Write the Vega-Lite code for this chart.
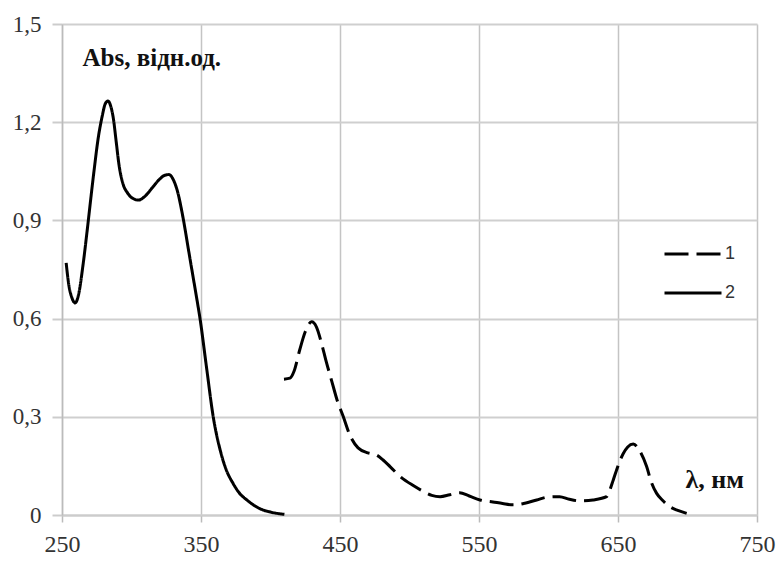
{
  "$schema": "https://vega.github.io/schema/vega-lite/v6.json",
  "width": 695,
  "height": 491,
  "autosize": {"type": "none"},
  "padding": {"left": 62, "top": 24, "right": 20, "bottom": 46},
  "background": "white",
  "config": {
    "view": {"stroke": null},
    "font": "Liberation Serif"
  },
  "data": {
    "values": [
      {"wl": 253, "abs": 0.77, "s": "2"},
      {"wl": 255, "abs": 0.70, "s": "2"},
      {"wl": 257, "abs": 0.665, "s": "2"},
      {"wl": 259.5, "abs": 0.648, "s": "2"},
      {"wl": 262, "abs": 0.675, "s": "2"},
      {"wl": 265, "abs": 0.76, "s": "2"},
      {"wl": 268, "abs": 0.865, "s": "2"},
      {"wl": 270, "abs": 0.94, "s": "2"},
      {"wl": 273, "abs": 1.05, "s": "2"},
      {"wl": 276, "abs": 1.15, "s": "2"},
      {"wl": 279, "abs": 1.22, "s": "2"},
      {"wl": 281, "abs": 1.255, "s": "2"},
      {"wl": 283, "abs": 1.265, "s": "2"},
      {"wl": 285, "abs": 1.25, "s": "2"},
      {"wl": 287, "abs": 1.21, "s": "2"},
      {"wl": 289, "abs": 1.14, "s": "2"},
      {"wl": 291, "abs": 1.07, "s": "2"},
      {"wl": 294, "abs": 1.01, "s": "2"},
      {"wl": 297, "abs": 0.985, "s": "2"},
      {"wl": 300, "abs": 0.97, "s": "2"},
      {"wl": 305, "abs": 0.962, "s": "2"},
      {"wl": 310, "abs": 0.975, "s": "2"},
      {"wl": 315, "abs": 1.0, "s": "2"},
      {"wl": 320, "abs": 1.025, "s": "2"},
      {"wl": 324, "abs": 1.038, "s": "2"},
      {"wl": 327, "abs": 1.04, "s": "2"},
      {"wl": 330, "abs": 1.025, "s": "2"},
      {"wl": 333, "abs": 0.99, "s": "2"},
      {"wl": 337, "abs": 0.91, "s": "2"},
      {"wl": 341, "abs": 0.81, "s": "2"},
      {"wl": 344, "abs": 0.735, "s": "2"},
      {"wl": 347, "abs": 0.66, "s": "2"},
      {"wl": 349.3, "abs": 0.60, "s": "2"},
      {"wl": 354, "abs": 0.45, "s": "2"},
      {"wl": 358.8, "abs": 0.30, "s": "2"},
      {"wl": 363.7, "abs": 0.20, "s": "2"},
      {"wl": 368, "abs": 0.14, "s": "2"},
      {"wl": 373, "abs": 0.097, "s": "2"},
      {"wl": 378, "abs": 0.065, "s": "2"},
      {"wl": 383, "abs": 0.046, "s": "2"},
      {"wl": 392, "abs": 0.02, "s": "2"},
      {"wl": 400, "abs": 0.009, "s": "2"},
      {"wl": 410, "abs": 0.002, "s": "2"},
      {"wl": 409.7, "abs": 0.415, "s": "1"},
      {"wl": 414, "abs": 0.418, "s": "1"},
      {"wl": 417, "abs": 0.44, "s": "1"},
      {"wl": 421, "abs": 0.504, "s": "1"},
      {"wl": 425, "abs": 0.56, "s": "1"},
      {"wl": 429.6, "abs": 0.59, "s": "1"},
      {"wl": 433, "abs": 0.575, "s": "1"},
      {"wl": 437, "abs": 0.52, "s": "1"},
      {"wl": 440, "abs": 0.47, "s": "1"},
      {"wl": 444, "abs": 0.41, "s": "1"},
      {"wl": 448, "abs": 0.35, "s": "1"},
      {"wl": 452.4, "abs": 0.30, "s": "1"},
      {"wl": 457, "abs": 0.245, "s": "1"},
      {"wl": 463, "abs": 0.205, "s": "1"},
      {"wl": 470, "abs": 0.19, "s": "1"},
      {"wl": 476.4, "abs": 0.183, "s": "1"},
      {"wl": 481, "abs": 0.168, "s": "1"},
      {"wl": 486, "abs": 0.148, "s": "1"},
      {"wl": 494, "abs": 0.115, "s": "1"},
      {"wl": 502.7, "abs": 0.09, "s": "1"},
      {"wl": 510, "abs": 0.072, "s": "1"},
      {"wl": 516, "abs": 0.06, "s": "1"},
      {"wl": 522, "abs": 0.056, "s": "1"},
      {"wl": 529, "abs": 0.062, "s": "1"},
      {"wl": 536, "abs": 0.068, "s": "1"},
      {"wl": 543, "abs": 0.058, "s": "1"},
      {"wl": 550.7, "abs": 0.046, "s": "1"},
      {"wl": 560, "abs": 0.04, "s": "1"},
      {"wl": 567, "abs": 0.035, "s": "1"},
      {"wl": 574.6, "abs": 0.031, "s": "1"},
      {"wl": 583, "abs": 0.036, "s": "1"},
      {"wl": 591.5, "abs": 0.046, "s": "1"},
      {"wl": 600, "abs": 0.055, "s": "1"},
      {"wl": 608, "abs": 0.056, "s": "1"},
      {"wl": 615, "abs": 0.048, "s": "1"},
      {"wl": 622.7, "abs": 0.043, "s": "1"},
      {"wl": 632, "abs": 0.046, "s": "1"},
      {"wl": 641.8, "abs": 0.056, "s": "1"},
      {"wl": 644, "abs": 0.075, "s": "1"},
      {"wl": 646.6, "abs": 0.107, "s": "1"},
      {"wl": 650, "abs": 0.15, "s": "1"},
      {"wl": 653.8, "abs": 0.188, "s": "1"},
      {"wl": 657, "abs": 0.208, "s": "1"},
      {"wl": 661, "abs": 0.217, "s": "1"},
      {"wl": 665, "abs": 0.2, "s": "1"},
      {"wl": 670.6, "abs": 0.148, "s": "1"},
      {"wl": 674, "abs": 0.1, "s": "1"},
      {"wl": 677.8, "abs": 0.066, "s": "1"},
      {"wl": 682, "abs": 0.045, "s": "1"},
      {"wl": 687.4, "abs": 0.025, "s": "1"},
      {"wl": 693, "abs": 0.014, "s": "1"},
      {"wl": 699.4, "abs": 0.005, "s": "1"}
    ]
  },
  "mark": {"type": "line", "color": "black", "strokeWidth": 3, "interpolate": "monotone"},
  "encoding": {
    "x": {
      "field": "wl",
      "type": "quantitative",
      "scale": {"domain": [250, 750], "nice": false, "zero": false},
      "axis": {
        "values": [250, 350, 450, 550, 650, 750],
        "title": "λ, нм",
        "titleFont": "Liberation Serif",
        "titleFontWeight": "bold",
        "titleFontSize": 26,
        "titleColor": "#111",
        "titleAnchor": "start",
        "titleAlign": "left",
        "titleBaseline": "alphabetic",
        "titleX": 623,
        "titleY": -28,
        "labelFont": "Liberation Serif",
        "labelFontSize": 24,
        "labelColor": "#333",
        "labelPadding": 10,
        "labelFlush": false,
        "labelOverlap": false,
        "tickSize": 7,
        "tickColor": "#bbb",
        "tickWidth": 1.5,
        "domainColor": "#ccc",
        "domainWidth": 2,
        "grid": true,
        "gridColor": "#c4c4c4",
        "gridWidth": 1.5
      }
    },
    "y": {
      "field": "abs",
      "type": "quantitative",
      "scale": {"domain": [0, 1.5], "nice": false},
      "axis": {
        "values": [0, 0.3, 0.6, 0.9, 1.2, 1.5],
        "labelExpr": "replace(format(datum.value, '.1~f'), '.', ',')",
        "title": "Abs, відн.од.",
        "titleFont": "Liberation Serif",
        "titleFontWeight": "bold",
        "titleFontSize": 25,
        "titleColor": "#111",
        "titleAngle": 0,
        "titleAnchor": "start",
        "titleAlign": "left",
        "titleBaseline": "alphabetic",
        "titleX": 20,
        "titleY": 41,
        "labelFont": "Liberation Serif",
        "labelFontSize": 23,
        "labelColor": "#333",
        "labelPadding": 11,
        "labelFlush": false,
        "labelOverlap": false,
        "tickSize": 10,
        "tickColor": "#ccc",
        "tickWidth": 2,
        "domainColor": "#bbb",
        "domainWidth": 1.5,
        "grid": true,
        "gridColor": "#cfcfcf",
        "gridWidth": 2
      }
    },
    "strokeDash": {
      "field": "s",
      "type": "nominal",
      "scale": {"domain": ["1", "2"], "range": [[24, 8], [1, 0]]},
      "legend": {
        "title": null,
        "orient": "none",
        "legendX": 601,
        "legendY": 200,
        "symbolType": "stroke",
        "symbolSize": 3249,
        "symbolStrokeWidth": 3,
        "symbolStrokeColor": "black",
        "labelFont": "Liberation Sans",
        "labelFontSize": 18,
        "labelColor": "#333",
        "labelOffset": 2,
        "rowPadding": -15,
        "padding": 0
      }
    }
  }
}
